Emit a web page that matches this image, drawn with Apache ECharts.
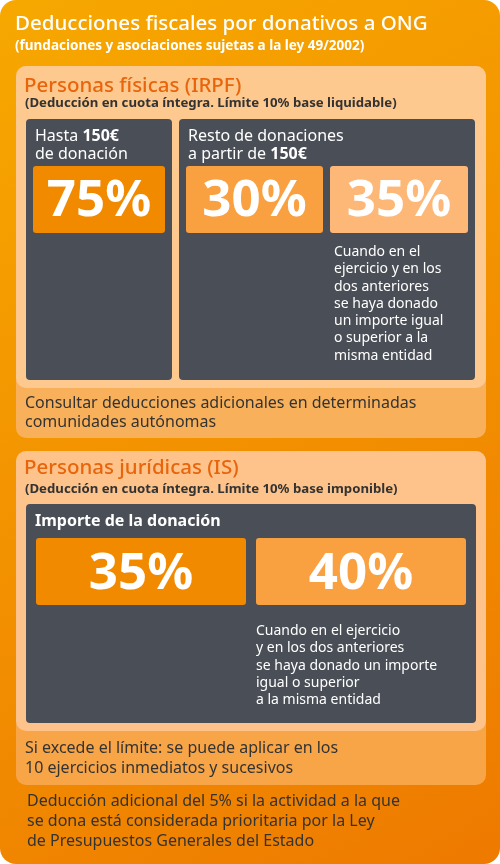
<!DOCTYPE html>
<html><head><meta charset="utf-8">
<script src="https://cdn.jsdelivr.net/npm/echarts@6/dist/echarts.min.js"></script>
<style>html,body{margin:0;padding:0;}#c{width:500px;height:864px;}</style>
</head><body><div id="c"></div>
<script>
const titles = ["Deducciones fiscales por donativos a ONG", "(fundaciones y asociaciones sujetas a la ley 49/2002)"];
const irpfValues = ["75%", "30%", "35%"];
const isValues = ["35%", "40%"];
const irpfNote = ["Cuando en el", "ejercicio y en los", "dos anteriores", "se haya donado", "un importe igual", "o superior a la", "misma entidad"];
const isNote = ["Cuando en el ejercicio", "y en los dos anteriores", "se haya donado un importe", "igual o superior", "a la misma entidad"];
const F = "'Noto Sans', sans-serif";
const g = [];
function rect(x,y,w,h,fill,r){g.push({type:'rect',shape:{x,y,width:w,height:h,r:r||0},style:{fill}});}
function text(x,y,t,size,fill,weight,align){g.push({type:'text',x,y,style:{text:t,fontSize:size,fill,fontWeight:weight||'normal',fontFamily:F,align:align||'left',verticalAlign:'middle'}});}
function rich(x,y,parts,size,fill){g.push({type:'text',x,y,style:{text:parts.map(p=>p[1]?'{b|'+p[0]+'}':'{n|'+p[0]+'}').join(''),fontFamily:F,verticalAlign:'middle',rich:{n:{fontSize:size,fill,fontFamily:F},b:{fontSize:size,fill,fontFamily:F,fontWeight:'bold'}}}});}
g.push({type:'rect',shape:{x:0,y:0,width:500,height:864,r:16},style:{fill:new echarts.graphic.LinearGradient(0,0,1,1,[{offset:0,color:'#f7a800'},{offset:1,color:'#ee7a00'}])}});
text(15,24,titles[0],20.5,'#fff','500');
text(15,46,titles[1],13.5,'#fff','bold');
// panel 1
rect(16,66,470,372,'#f8b15a',10);
rect(16,66,470,322,'#fdc98f',10);
text(24,86,'Personas físicas (IRPF)',20.5,'#e8650c','500');
text(25,103,'(Deducción en cuota íntegra. Límite 10% base liquidable)',13.2,'#333','bold');
rect(26,119,146,261,'#4a4e56',4);
rect(179,119,296,261,'#4a4e56',4);
rich(35,136,[['Hasta ',0],['150€',1]],16,'#fff');
text(35,154,'de donación',16,'#fff');
rich(188,136,[['Resto de donaciones',0]],16,'#fff');
rich(188,154,[['a partir de ',0],['150€',1]],16,'#fff');
const c1=[['#f28a00',33,166,132],['#f9a040',186,166,137],['#fdb878',330,166,138]];
c1.forEach((c,i)=>{rect(c[1],c[2],c[3],67,c[0],3);text(c[1]+c[3]/2,c[2]+35,irpfValues[i],51,'#fff','bold','center');});
irpfNote.forEach((t,i)=>text(334,252+i*17.3,t,14,'#fff'));
text(25,403,'Consultar deducciones adicionales en determinadas',16,'#333');
text(25,422,'comunidades autónomas',16,'#333');
// panel 2
rect(16,451,470,334,'#f8a547',10);
rect(16,451,470,280,'#fdc38a',10);
text(24,468,'Personas jurídicas (IS)',20.5,'#e8650c','500');
text(25,489,'(Deducción en cuota íntegra. Límite 10% base imponible)',13.2,'#333','bold');
rect(26,504,450,219,'#4a4e56',4);
text(35,521,'Importe de la donación',16,'#fff','bold');
const c2=[['#f28a00',36,538,210],['#f9a040',256,538,210]];
c2.forEach((c,i)=>{rect(c[1],c[2],c[3],67,c[0],3);text(c[1]+c[3]/2,c[2]+36,isValues[i],51,'#fff','bold','center');});
isNote.forEach((t,i)=>text(256,631+i*17.3,t,14,'#fff'));
text(25,748,'Si excede el límite: se puede aplicar en los',16,'#333');
text(25,768,'10 ejercicios inmediatos y sucesivos',16,'#333');
['Deducción adicional del 5% si la actividad a la que','se dona está considerada prioritaria por la Ley','de Presupuestos Generales del Estado'].forEach((t,i)=>text(27,801+i*20,t,16,'#333'));
const chart=echarts.init(document.getElementById('c'));
chart.setOption({graphic:g});
</script></body></html>
